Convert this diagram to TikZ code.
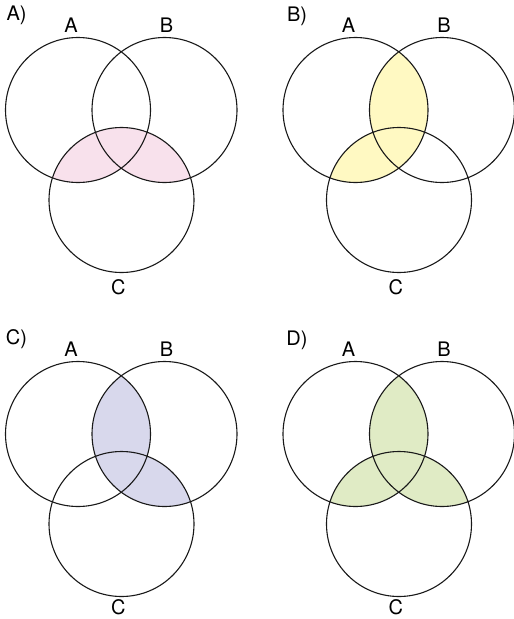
\documentclass[tikz,border=0pt]{standalone}
\usepackage{fontspec}
\setsansfont{TeX Gyre Heros}
\usepackage{xcolor}
\usepackage{tikz}

\definecolor{pinkfill}{RGB}{248,225,236}
\definecolor{yellowfill}{RGB}{255,249,194}
\definecolor{lilacfill}{RGB}{216,216,236}
\definecolor{greenfill}{RGB}{224,235,197}

\begin{document}
\begin{tikzpicture}[
    x=1pt, y=-1pt,
    ring/.style={draw=black!90, line width=1.1pt},
    setsize/.style={radius=72.5pt},
    setname/.style={font=\sffamily\fontsize{20}{20}\selectfont, inner sep=0pt},
    panelname/.style={font=\sffamily\fontsize{20}{20}\selectfont, inner sep=0pt}
]
\useasboundingbox (0,0) rectangle (514,619);

% Panel A: (A and C) or (B and C)
\begin{scope}[shift={(0,0)}]
\coordinate (a1) at (78,110);
\coordinate (b1) at (164.5,110);
\coordinate (c1) at (121.5,200);
\begin{scope}
  \clip (c1) circle[setsize];
  \fill[pinkfill] (a1) circle[setsize] (b1) circle[setsize];
\end{scope}
\draw[ring] (a1) circle[setsize] (b1) circle[setsize] (c1) circle[setsize];
\node[panelname] (pA) at (16.5,15.5) {A)};
\node[setname] (nA1) at (71,25) {A};
\node[setname] (nB1) at (166.5,25) {B};
\node[setname] (nC1) at (118.3,287.5) {C};
\end{scope}

% Panel B: (A and B) or (A and C)
\begin{scope}[shift={(277.5,0)}]
\coordinate (a2) at (78,110);
\coordinate (b2) at (164.5,110);
\coordinate (c2) at (121.5,200);
\begin{scope}
  \clip (a2) circle[setsize];
  \fill[yellowfill] (b2) circle[setsize] (c2) circle[setsize];
\end{scope}
\draw[ring] (a2) circle[setsize] (b2) circle[setsize] (c2) circle[setsize];
\node[panelname] (pB) at (19.5,16) {B)};
\node[setname] (nA2) at (71,25) {A};
\node[setname] (nB2) at (166.5,25) {B};
\node[setname] (nC2) at (118.3,287.5) {C};
\end{scope}

% Panel C: (A and B) or (B and C)
\begin{scope}[shift={(0,324)}]
\coordinate (a3) at (78,110);
\coordinate (b3) at (164.5,110);
\coordinate (c3) at (121.5,200);
\begin{scope}
  \clip (b3) circle[setsize];
  \fill[lilacfill] (a3) circle[setsize] (c3) circle[setsize];
\end{scope}
\draw[ring] (a3) circle[setsize] (b3) circle[setsize] (c3) circle[setsize];
\node[panelname] (pC) at (16.5,15) {C)};
\node[setname] (nA3) at (71,25) {A};
\node[setname] (nB3) at (166.5,25) {B};
\node[setname] (nC3) at (118.3,283.5) {C};
\end{scope}

% Panel D: every pairwise overlap
\begin{scope}[shift={(277.5,324)}]
\coordinate (a4) at (78,110);
\coordinate (b4) at (164.5,110);
\coordinate (c4) at (121.5,200);
\begin{scope}
  \clip (a4) circle[setsize];
  \fill[greenfill] (b4) circle[setsize] (c4) circle[setsize];
\end{scope}
\begin{scope}
  \clip (b4) circle[setsize];
  \fill[greenfill] (c4) circle[setsize];
\end{scope}
\draw[ring] (a4) circle[setsize] (b4) circle[setsize] (c4) circle[setsize];
\node[panelname] (pD) at (19.5,16.5) {D)};
\node[setname] (nA4) at (71,25) {A};
\node[setname] (nB4) at (166.5,25) {B};
\node[setname] (nC4) at (118.3,283.5) {C};
\end{scope}

\end{tikzpicture}
\end{document}
